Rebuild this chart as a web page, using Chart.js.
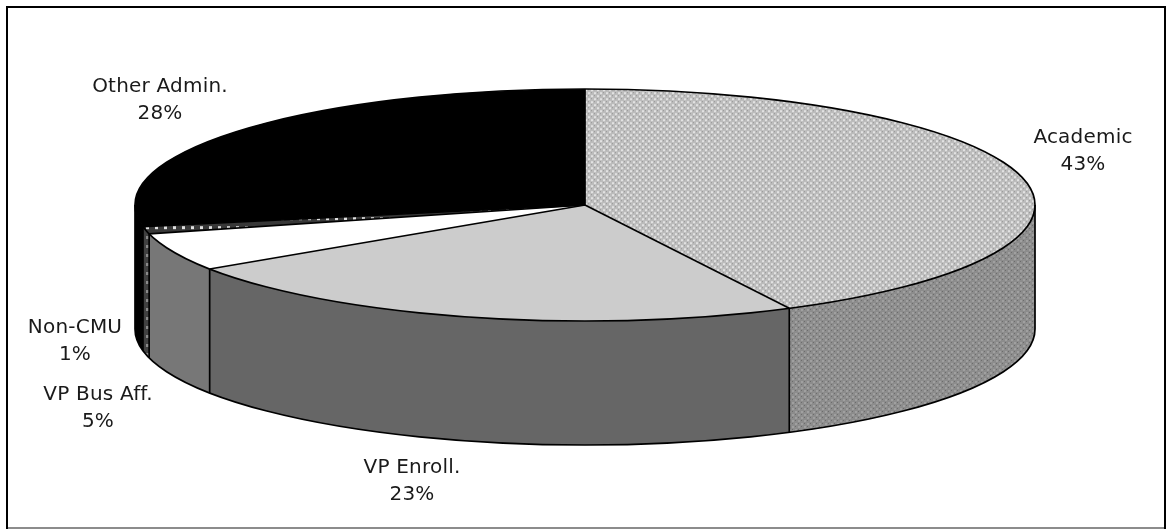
<!DOCTYPE html>
<html>
<head>
<meta charset="utf-8">
<style>html,body{margin:0;padding:0;background:#fff}canvas{display:block}</style>
<script src="https://cdn.jsdelivr.net/npm/chart.js@4"></script>
</head>
<body>
<canvas id="c" width="1167" height="529"></canvas>
<script>
const categories = ['Academic', 'VP Enroll.', 'VP Bus Aff.', 'Non-CMU', 'Other Admin.'];
const shares = [42.5, 23.2, 5.3, 1, 28];
const percentLabels = ['43%', '23%', '5%', '1%', '28%'];

// Layout of the tilted pie
const RX = 450, RY = 116, CX = 585, CY = 205, DEPTH = 124;
const labelAnchors = [[1083, 143], [412, 473], [98, 400], [75, 333], [160, 92]];
const LINE_GAP = 27;

function tile(size, paint) {
  const t = document.createElement('canvas');
  t.width = t.height = size;
  paint(t.getContext('2d'));
  return t.getContext('2d').createPattern(t, 'repeat');
}
function squashCompensated(p) {
  p.setTransform(new DOMMatrix().scale(1, RX / RY));
  return p;
}
function checker(base, light, dark) {
  return tile(6, g => {
    g.fillStyle = base; g.fillRect(0, 0, 6, 6);
    g.fillStyle = light; g.fillRect(0, 0, 2, 2); g.fillRect(3, 3, 2, 2);
    g.fillStyle = dark; g.fillRect(3, 0, 1, 1); g.fillRect(0, 3, 1, 1);
  });
}
function dotted(base, dot) {
  return tile(9, g => {
    g.fillStyle = base; g.fillRect(0, 0, 9, 9);
    g.fillStyle = dot; g.fillRect(2, 2, 3, 3);
  });
}

const topFills = [
  squashCompensated(checker('#bcbcbc', '#e2e2e2', '#969696')),
  '#cccccc',
  '#ffffff',
  squashCompensated(dotted('#383838', '#e0e0e0')),
  '#000000'
];
const wallFills = [
  checker('#8c8c8c', '#a0a0a0', '#6c6c6c'),
  '#666666',
  '#777777',
  dotted('#404040', '#8a8a8a'),
  '#000000'
];

const tiltedPie = {
  id: 'tiltedPie',
  beforeDraw(chart) {
    const ctx = chart.ctx;
    ctx.save();
    ctx.fillStyle = '#fff';
    ctx.fillRect(0, 0, chart.width, chart.height);
    // frame
    ctx.fillStyle = '#000';
    ctx.fillRect(6, 6, 1159, 2);
    ctx.fillRect(6, 6, 2, 523);
    ctx.fillRect(1164, 6, 2, 523);
    ctx.fillStyle = '#8c8c8c';
    ctx.fillRect(8, 527, 1156, 2);
    ctx.restore();
  },
  beforeDatasetsDraw(chart) {
    const ctx = chart.ctx;
    const arcs = chart.getDatasetMeta(0).data;
    ctx.save();
    arcs.forEach((arc, i) => {
      const a0 = Math.max(arc.startAngle, 0);
      const a1 = Math.min(arc.endAngle, Math.PI);
      if (a1 <= a0) return;
      ctx.beginPath();
      ctx.ellipse(CX, CY, RX, RY, 0, a0, a1);
      ctx.ellipse(CX, CY + DEPTH, RX, RY, 0, a1, a0, true);
      ctx.closePath();
      ctx.fillStyle = wallFills[i];
      ctx.fill();
    });
    ctx.restore();
    // squash the library's round pie into the tilted top face
    ctx.save();
    ctx.translate(0, CY);
    ctx.scale(1, RY / RX);
    ctx.translate(0, -CY);
  },
  afterDatasetsDraw(chart) {
    const ctx = chart.ctx;
    ctx.restore();
    const arcs = chart.getDatasetMeta(0).data;
    const px = a => CX + RX * Math.cos(a);
    const py = a => CY + RY * Math.sin(a);
    ctx.save();
    ctx.strokeStyle = '#000';
    ctx.lineWidth = 1.7;
    // outer rims
    ctx.beginPath();
    ctx.ellipse(CX, CY, RX, RY, 0, 0, Math.PI * 2);
    ctx.stroke();
    ctx.beginPath();
    ctx.ellipse(CX, CY + DEPTH, RX, RY, 0, 0, Math.PI);
    ctx.stroke();
    // side tangents
    ctx.beginPath();
    ctx.moveTo(CX + RX, CY); ctx.lineTo(CX + RX, CY + DEPTH);
    ctx.moveTo(CX - RX, CY); ctx.lineTo(CX - RX, CY + DEPTH);
    ctx.stroke();
    // slice spokes on the top and seams on the wall
    arcs.forEach(arc => {
      const a = arc.startAngle;
      ctx.beginPath();
      ctx.moveTo(CX, CY);
      ctx.lineTo(px(a), py(a));
      ctx.stroke();
      const norm = Math.atan2(Math.sin(a), Math.cos(a));
      if (norm > 0 && norm < Math.PI) {
        ctx.beginPath();
        ctx.moveTo(px(a), py(a));
        ctx.lineTo(px(a), py(a) + DEPTH);
        ctx.stroke();
      }
    });
    // labels
    ctx.fillStyle = '#1a1a1a';
    ctx.font = '20px "DejaVu Sans"';
    ctx.letterSpacing = '0.2px';
    ctx.textAlign = 'center';
    ctx.textBaseline = 'alphabetic';
    categories.forEach((name, i) => {
      const [x, y] = labelAnchors[i];
      ctx.fillText(name, x, y);
      ctx.fillText(percentLabels[i], x, y + LINE_GAP);
    });
    ctx.restore();
  }
};

new Chart(document.getElementById('c'), {
  type: 'pie',
  data: {
    labels: categories,
    datasets: [{
      data: shares,
      backgroundColor: topFills,
      borderWidth: 0,
      clip: false
    }]
  },
  options: {
    responsive: false,
    animation: false,
    events: [],
    radius: RX,
    rotation: 0,
    circumference: 360,
    layout: { padding: { left: 3, right: 0, top: 0, bottom: 119 } },
    plugins: { legend: { display: false }, tooltip: { enabled: false } }
  },
  plugins: [tiltedPie]
});
</script>
</body>
</html>
